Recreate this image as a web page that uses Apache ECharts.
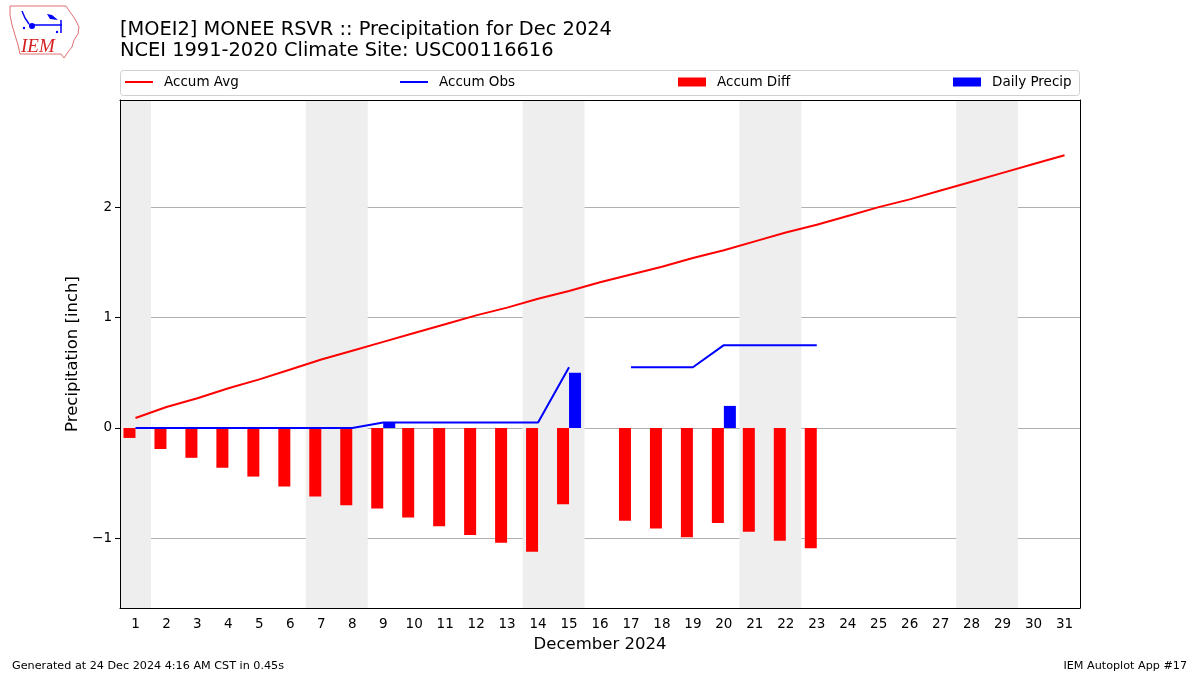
<!DOCTYPE html>
<html>
<head>
<meta charset="utf-8">
<script src="https://cdn.jsdelivr.net/npm/echarts@6/dist/echarts.min.js"></script>
<style>html,body{margin:0;padding:0;background:#fff}#chart{width:1200px;height:675px}</style>
</head>
<body>
<div id="chart"></div>
<script>
const days = ['1','2','3','4','5','6','7','8','9','10','11','12','13','14','15','16','17','18','19','20','21','22','23','24','25','26','27','28','29','30','31'];
const accumAvg = [0.09,0.19,0.27,0.36,0.44,0.53,0.62,0.70,0.78,0.86,0.94,1.02,1.09,1.17,1.24,1.32,1.39,1.46,1.54,1.61,1.69,1.77,1.84,1.92,2.00,2.07,2.15,2.23,2.31,2.39,2.47];
const accumObs = [0,0,0,0,0,0,0,0,0.05,0.05,0.05,0.05,0.05,0.05,0.55,null,0.55,0.55,0.55,0.75,0.75,0.75,0.75,null,null,null,null,null,null,null,null];
const accumDiff = [-0.09,-0.19,-0.27,-0.36,-0.44,-0.53,-0.62,-0.70,-0.73,-0.81,-0.89,-0.97,-1.04,-1.12,-0.69,null,-0.84,-0.91,-0.99,-0.86,-0.94,-1.02,-1.09,null,null,null,null,null,null,null,null];
const dailyPrecip = [0,0,0,0,0,0,0,0,0.05,0,0,0,0,0,0.50,null,0,0,0,0.20,0,0,0,null,null,null,null,null,null,null,null];
const weekendDays = [[1,1],[7,8],[14,15],[21,22],[28,29]];
const yTicks = [-1,0,1,2];
const yMin = -1.63, yMax = 2.97;
const titleLines = ['[MOEI2] MONEE RSVR :: Precipitation for Dec 2024','NCEI 1991-2020 Climate Site: USC00116616'];
const footerLeft = 'Generated at 24 Dec 2024 4:16 AM CST in 0.45s';
const footerRight = 'IEM Autoplot App #17';

const FONT = 'DejaVu Sans';
const chart = echarts.init(document.getElementById('chart'), null, {renderer:'canvas'});

function legendCfg(name, left, h){
  return {
    data:[{name:name, icon:'rect'}], left:left, top:75, padding:0,
    itemWidth:28, itemHeight:h,
    textStyle:{fontFamily:FONT, fontSize:13.5, color:'#000', padding:[0,0,0,6]},
    selectedMode:false
  };
}

const option = {
  animation:false,
  backgroundColor:'#fff',
  title:{
    text:titleLines.join('\n'), left:120, top:19, padding:0,
    textStyle:{fontFamily:FONT, fontSize:19.4, fontWeight:'normal', color:'#000', lineHeight:21.5}
  },
  legend:[
    legendCfg('Accum Avg',125,2),
    legendCfg('Accum Obs',400,2),
    legendCfg('Accum Diff',678,9),
    legendCfg('Daily Precip',953,9)
  ],
  grid:{left:120, right:120, top:100, bottom:67, containLabel:false},
  xAxis:[
    {
      type:'category', data:days, position:'bottom', boundaryGap:true,
      name:'December 2024', nameLocation:'middle', nameGap:28,
      nameTextStyle:{fontFamily:FONT, fontSize:16.5, color:'#000'},
      axisLine:{onZero:false, lineStyle:{color:'#000', width:1}},
      axisTick:{alignWithLabel:true, length:5, lineStyle:{color:'#000'}},
      axisLabel:{fontFamily:FONT, fontSize:13.5, color:'#000', margin:9, interval:0},
      splitLine:{show:false}, z:1
    },
    {
      type:'value', min:0.5, max:31.5, position:'top',
      axisLine:{show:true, onZero:false, lineStyle:{color:'#000', width:1}},
      axisTick:{show:false}, axisLabel:{show:false}, splitLine:{show:false}, z:1
    }
  ],
  yAxis:[
    {
      type:'value', min:yMin, max:yMax, position:'left',
      name:'Precipitation [inch]', nameLocation:'middle', nameGap:37,
      nameTextStyle:{fontFamily:FONT, fontSize:16.5, color:'#000'},
      axisLine:{show:true, onZero:false, lineStyle:{color:'#000', width:1}},
      axisTick:{show:true, length:5, lineStyle:{color:'#000'}, customValues:yTicks},
      axisLabel:{fontFamily:FONT, fontSize:13.5, color:'#000', margin:8, customValues:yTicks,
        formatter:function(v){ return v < 0 ? '\u2212' + Math.abs(v) : String(v); }},
      splitLine:{show:true, lineStyle:{color:'#b0b0b0', width:1}},
      z:1
    },
    {
      type:'value', min:yMin, max:yMax, position:'right',
      axisLine:{show:true, onZero:false, lineStyle:{color:'#000', width:1}},
      axisTick:{show:false}, axisLabel:{show:false}, splitLine:{show:false}, z:1
    }
  ],
  series:[
    {
      name:'weekend', type:'line', xAxisIndex:1, yAxisIndex:0, data:[], z:0, silent:true,
      markArea:{silent:true, itemStyle:{color:'#eeeeee'},
        data: weekendDays.map(function(r){ return [{xAxis:r[0]-0.5}, {xAxis:r[1]+0.5}]; })}
    },
    {
      name:'Accum Diff', type:'bar', data:accumDiff, barWidth:12, barGap:'0%',
      itemStyle:{color:'#ff0000'}, z:2
    },
    {
      name:'Daily Precip', type:'bar', data:dailyPrecip, barWidth:12, barGap:'0%',
      itemStyle:{color:'#0000ff'}, z:2
    },
    {
      name:'Accum Avg', type:'line', data:accumAvg, symbol:'none', connectNulls:false,
      lineStyle:{color:'#ff0000', width:2}, itemStyle:{color:'#ff0000'}, z:3
    },
    {
      name:'Accum Obs', type:'line', data:accumObs, symbol:'none', connectNulls:false,
      lineStyle:{color:'#0000ff', width:2}, itemStyle:{color:'#0000ff'}, z:3
    }
  ],
  graphic:[
    {type:'rect', shape:{x:120.5, y:70.5, width:959, height:25, r:3}, style:{fill:'#fff', stroke:'#d0d0d0', lineWidth:1}, z:-1, silent:true},
    {type:'text', left:12, top:661, style:{text:footerLeft, font:'11.2px "DejaVu Sans"', fill:'#000'}},
    {type:'text', right:13, top:661, style:{text:footerRight, font:'11.2px "DejaVu Sans"', fill:'#000'}},
    {type:'polygon', shape:{points:[[10,6],[66,6],[70,12],[75,19],[79,27],[78,34],[74,40],[72,47],[68,52],[64,58],[61,54],[20,54],[18,45],[15,35],[12,25],[10,15]]},
      style:{fill:'none', stroke:'#e07070', lineWidth:1}, silent:true},
    {type:'text', x:21, y:37, style:{text:'IEM', font:'italic 19px "Liberation Serif"', fill:'#d42020'}, silent:true},
    {type:'polyline', shape:{points:[[22,11],[25,18],[29,24]]}, style:{stroke:'#0000ff', lineWidth:1.5, fill:'none'}, silent:true},
    {type:'line', shape:{x1:29, y1:25, x2:62, y2:25}, style:{stroke:'#0000ff', lineWidth:1.5}, silent:true},
    {type:'circle', shape:{cx:32, cy:26, r:3}, style:{fill:'#0000ff'}, silent:true},
    {type:'polygon', shape:{points:[[47,14],[52,15],[58,20],[50,19]]}, style:{fill:'#0000ff'}, silent:true},
    {type:'line', shape:{x1:61, y1:20, x2:61, y2:33}, style:{stroke:'#0000ff', lineWidth:1.5}, silent:true},
    {type:'circle', shape:{cx:24, cy:28, r:1.2}, style:{fill:'#0000ff'}, silent:true},
    {type:'circle', shape:{cx:57, cy:32, r:1.2}, style:{fill:'#0000ff'}, silent:true}
  ]
};
chart.setOption(option);
</script>
</body>
</html>
